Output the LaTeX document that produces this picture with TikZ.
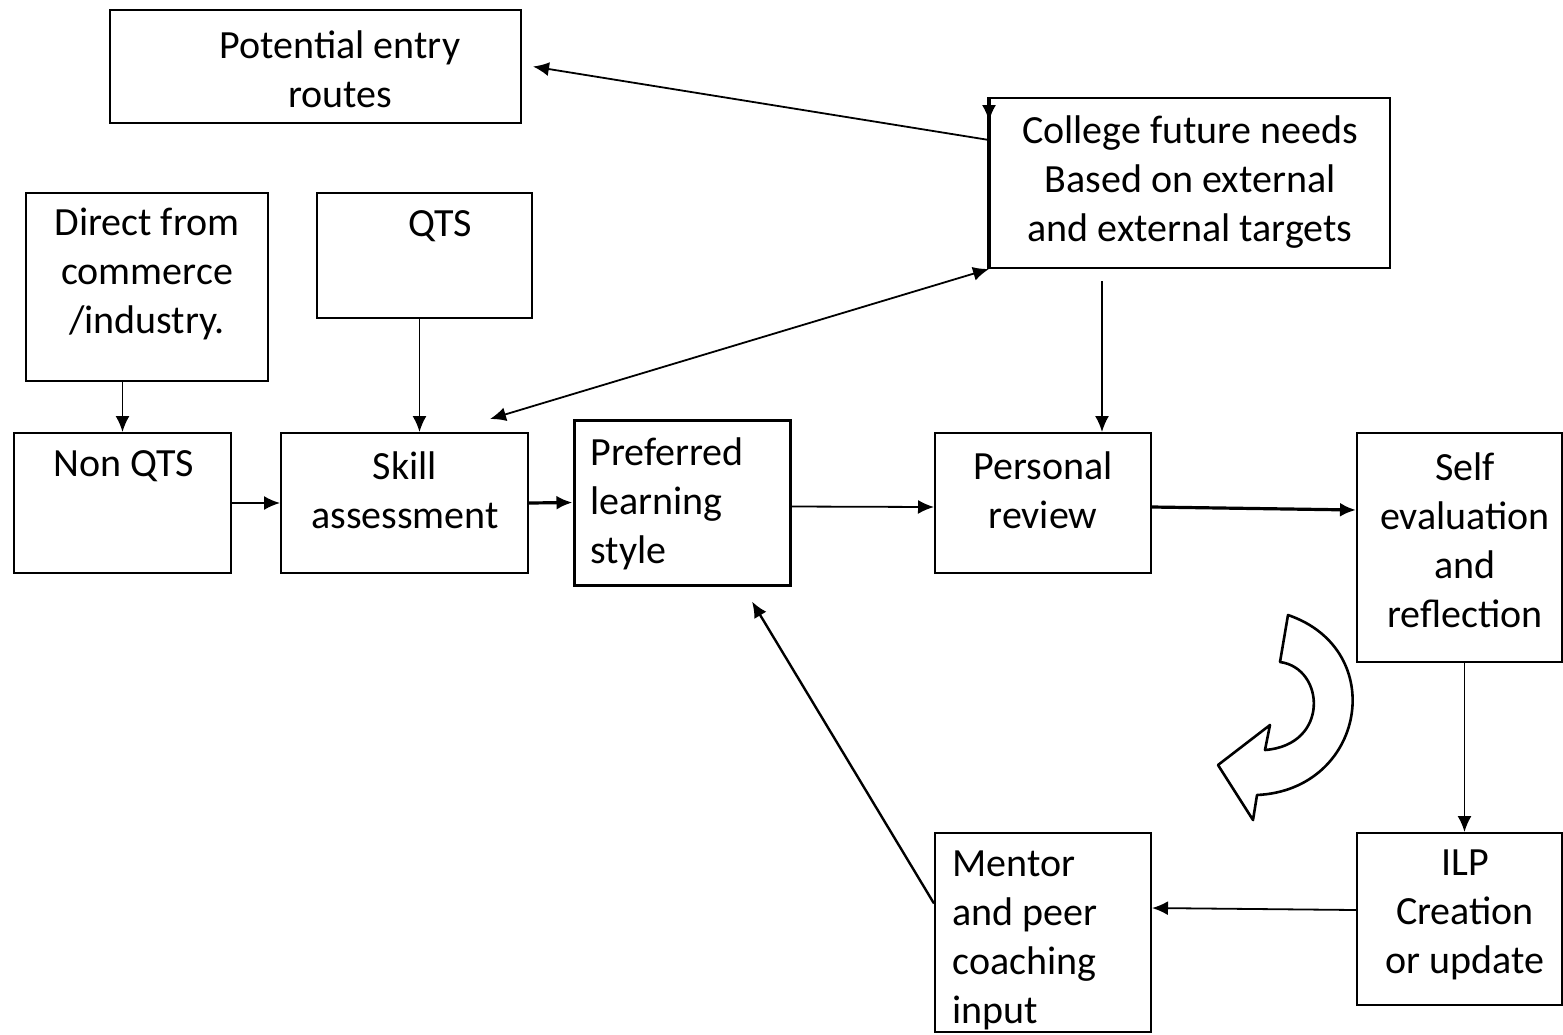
\documentclass[tikz,border=0pt]{standalone}
\usepackage{fontspec}
\setmainfont{Carlito}
\usetikzlibrary{arrows.meta}
\usetikzlibrary{positioning}
\begin{document}
\begin{tikzpicture}[x=0.5pt,y=-0.5pt,
  box/.style={draw,line width=1pt,inner sep=0pt},
  txt/.style={inner sep=0pt,align=center,font=\fontsize{20}{24.5}\selectfont},
  arr/.style={-{Latex[length=8pt,width=7pt]},line width=0.9pt}]
  \useasboundingbox (0,0) rectangle (1563,1034);
  \node[box,minimum width=205.5pt,minimum height=56.5pt] (entry) at (315.5,66.5){};
  \node[box,minimum width=200pt,minimum height=85pt] (college) at (1190,183){};
  \node[box,line width=1.4pt,minimum width=121pt,minimum height=94pt] (direct) at (147,287){};
  \node[box,minimum width=107.5pt,minimum height=62.5pt] (qts) at (424.5,255.5){};
  \node[box,minimum width=108.5pt,minimum height=70pt] (nonqts) at (122.5,503){};
  \node[box,minimum width=123.5pt,minimum height=70pt] (skill) at (404.5,503){};
  \node[box,line width=1.5pt,minimum width=108pt,minimum height=82.5pt] (pref) at (682,502.5){};
  \node[box,minimum width=108pt,minimum height=70pt] (personal) at (1043,503){};
  \node[box,minimum width=102.5pt,minimum height=114.5pt] (self) at (1459.5,547.5){};
  \node[box,minimum width=102.5pt,minimum height=86pt] (ilp) at (1459.5,919){};
  \node[box,minimum width=108pt,minimum height=99.5pt] (mentor) at (1043,932.5){};
  \node[txt] (entry-t) at (340,69){Potential entry\\routes};
  \node[txt] (college-t) at (1190,182){College future needs\\Based on external\\and external targets};
  \node[txt] (direct-t) at (147,274){Direct from\\commerce\\/industry.};
  \node[txt] (qts-t) at (440,226){QTS};
  \node[txt] (nonqts-t) at (124,466){Non QTS};
  \node[txt] (skill-t) at (405,490){Skill\\assessment};
  \node[txt,align=left,anchor=west] (pref-t) at (590,504){Preferred\\learning\\style};
  \node[txt] (personal-t) at (1043,490){Personal\\review};
  \node[txt] (self-t) at (1465,540){Self\\evaluation\\and\\reflection};
  \node[txt] (ilp-t) at (1465,915){ILP\\Creation\\or update};
  \node[txt,align=left,anchor=west] (mentor-t) at (952,940){Mentor\\and peer\\coaching\\input};
  \draw[line width=2pt] (college.north west) -- (college.south west);
  \draw[arr] (college.north west) -- ([yshift=-12pt]college.north west);
  \draw[arr] ([yshift=21.5pt]college.west) -- ([xshift=5.5pt]entry.east);
  \draw[{Latex[length=8pt,width=7pt]}-{Latex[length=8pt,width=7pt]},line width=0.9pt] ([xshift=42.75pt,yshift=6.5pt]skill.north) -- (college.south west);
  \draw[arr] ([xshift=-44pt,yshift=-6pt]college.south) -- ([xshift=-44pt]college.south |- personal.north);
  \draw[arr] (direct.south -| nonqts.north) -- (nonqts.north);
  \draw[arr] ([xshift=-2.5pt]qts.south) -- ([xshift=-2.5pt]qts.south |- skill.north);
  \draw[arr] (nonqts.east) -- (skill.west);
  \draw[arr,line width=1.6pt] (skill.east) -- (pref.west);
  \draw[arr] ([yshift=-2pt]pref.east) -- ([yshift=-2pt]personal.west);
  \draw[arr,line width=1.6pt] ([yshift=-2pt]personal.east) -- ([yshift=18.75pt]self.west);
  \draw[arr] ([xshift=2.5pt]self.south) -- ([xshift=2.5pt]self.south |- ilp.north);
  \draw[arr] ([yshift=4.5pt]ilp.west) -- ([yshift=12.25pt]mentor.east);
  \draw[arr,line width=1.2pt] ([yshift=14.5pt]mentor.west) -- ([xshift=35pt,yshift=-7.5pt]pref.south);
  \draw[line width=1.3pt,line join=round] (1280,662) .. controls (1325,668) and (1330,745) .. (1265,750)
    -- (1270,725) -- (1218,765) -- (1253,820) -- (1257,795)
    .. controls (1365,790) and (1390,650) .. (1288,615) -- cycle;
\end{tikzpicture}
\end{document}
